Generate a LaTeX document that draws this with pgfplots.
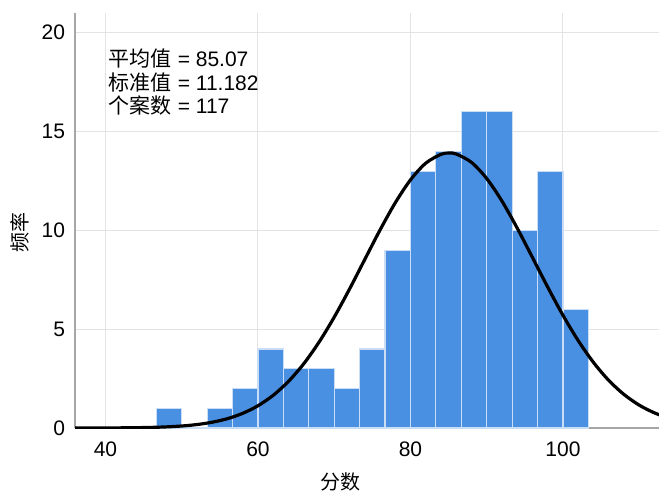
\documentclass[border=0pt]{standalone}
\usepackage{fontspec}
\setmainfont{Liberation Sans}
\newfontfamily\cjk{Noto Sans CJK SC}
\usepackage{pgfplots}
\pgfplotsset{compat=1.18}
\definecolor{barblue}{HTML}{4A90E2}
\begin{document}
\begin{tikzpicture}
\begin{axis}[
  scale only axis, width=292pt, height=207.5pt,
  xmin=36, xmax=112.6, ymin=0, ymax=21,
  axis x line=bottom, axis y line=left,
  axis line style={-, draw=gray!70, line width=0.6pt},
  xtick={40,60,80,100}, ytick={0,5,10,15,20},
  major tick length=0pt,
  grid=major, grid style={draw=gray!22, line width=0.5pt},
  tick label style={font=\fontsize{10.5}{12}\selectfont},
  /pgf/number format/assume math mode=true,
  xticklabel style={yshift=-3.5pt},
  yticklabel style={xshift=-1.5pt},
  xlabel={\cjk 分数}, ylabel={\cjk 频率},
  label style={font=\fontsize{10}{12}\selectfont},
  xlabel style={at={(axis description cs:0.454,-0.13)}, anchor=center},
  ylabel style={at={(axis description cs:-0.094,0.472)}, anchor=center},
  clip=true,
]
\addplot[ybar interval, fill=barblue, draw=white!70!barblue, line width=0.6pt] coordinates {
(46.667,1) (50,0) (53.333,1) (56.667,2) (60,4) (63.333,3) (66.667,3) (70,2)
(73.333,4) (76.667,9) (80,13) (83.333,14) (86.667,16) (90,16) (93.333,10)
(96.667,13) (100,6) (103.333,0)
};
\addplot[black, line width=1.6pt, smooth, mark=none] coordinates {
(36,0.0009) (38,0.0020) (40,0.0041) (42,0.0084) (44,0.0164) (46,0.0311)
(48,0.0572) (50,0.1018) (52,0.1754) (54,0.2932) (56,0.4741) (58,0.7430)
(60,1.127) (62,1.657) (64,2.359) (66,3.251) (68,4.340) (70,5.611)
(72,7.027) (74,8.524) (76,10.014) (78,11.393) (80,12.555) (82,13.399)
(84,13.850) (85.07,13.914) (86,13.866) (88,13.444) (90,12.625) (92,11.484)
(94,10.115) (96,8.630) (98,7.131) (100,5.706) (102,4.423) (104,3.320)
(106,2.413) (108,1.699) (110,1.159) (112,0.7656) (114,0.4898)
};
\node[anchor=north west, align=left, inner sep=0pt,
  font=\fontsize{10.5}{11.75}\selectfont] at (axis cs:40.4,19.2)
  {{\cjk 平均值} = 85.07\\{\cjk 标准值} = 11.182\\{\cjk 个案数} = 117};
\end{axis}
\pgfresetboundingbox
\path[use as bounding box] ([shift={(-37.5pt,-32.5pt)}]current axis.south west)
  rectangle ([shift={(0pt,6.5pt)}]current axis.north east);
\end{tikzpicture}
\end{document}
